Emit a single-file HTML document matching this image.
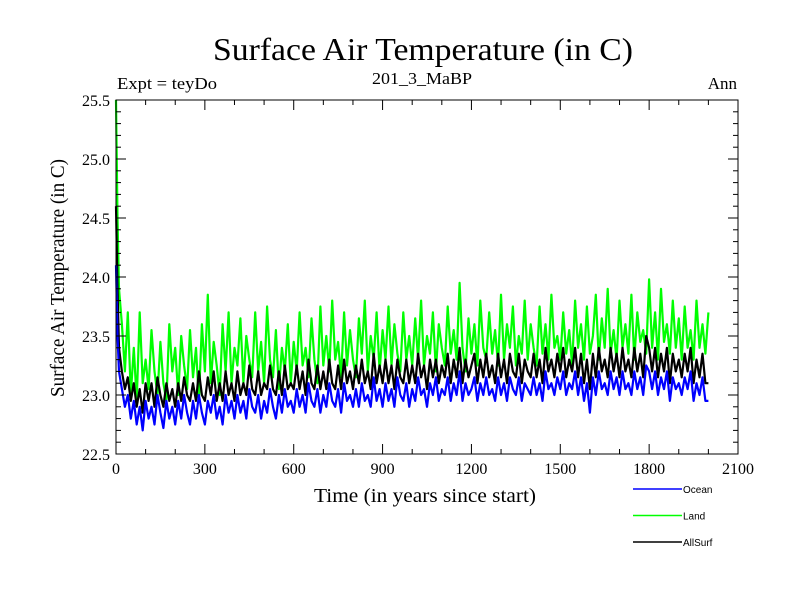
<!DOCTYPE html>
<html><head><meta charset="utf-8"><style>html,body{margin:0;padding:0;background:#fff}svg{display:block}</style></head>
<body>
<svg id="chart" width="800" height="600" xmlns="http://www.w3.org/2000/svg" font-family="'Liberation Serif', serif">
<rect width="800" height="600" fill="#fff"/>
<text x="423" y="60" font-size="32" text-anchor="middle" textLength="420" lengthAdjust="spacingAndGlyphs">Surface Air Temperature (in C)</text>
<text x="117" y="89" font-size="17" textLength="100" lengthAdjust="spacingAndGlyphs">Expt = teyDo</text>
<text x="422" y="84" font-size="17" text-anchor="middle" textLength="100" lengthAdjust="spacingAndGlyphs">201_3_MaBP</text>
<text x="737" y="89" font-size="17" text-anchor="end">Ann</text>
<text x="425" y="502" font-size="20" text-anchor="middle" textLength="222" lengthAdjust="spacingAndGlyphs">Time (in years since start)</text>
<text transform="translate(64,278) rotate(-90)" font-size="20" text-anchor="middle" textLength="238" lengthAdjust="spacingAndGlyphs">Surface Air Temperature (in C)</text>
<g id="series"></g>
<g id="axes"></g>
<g id="legend"></g>
</svg>
<script>
const years=[0,5,10,20,30,40,50,60,70,80,90,100,110,120,130,140,150,160,170,180,190,200,210,220,230,240,250,260,270,280,290,300,310,320,330,340,350,360,370,380,390,400,410,420,430,440,450,460,470,480,490,500,510,520,530,540,550,560,570,580,590,600,610,620,630,640,650,660,670,680,690,700,710,720,730,740,750,760,770,780,790,800,810,820,830,840,850,860,870,880,890,900,910,920,930,940,950,960,970,980,990,1000,1010,1020,1030,1040,1050,1060,1070,1080,1090,1100,1110,1120,1130,1140,1150,1160,1170,1180,1190,1200,1210,1220,1230,1240,1250,1260,1270,1280,1290,1300,1310,1320,1330,1340,1350,1360,1370,1380,1390,1400,1410,1420,1430,1440,1450,1460,1470,1480,1490,1500,1510,1520,1530,1540,1550,1560,1570,1580,1590,1600,1610,1620,1630,1640,1650,1660,1670,1680,1690,1700,1710,1720,1730,1740,1750,1760,1770,1780,1790,1800,1810,1820,1830,1840,1850,1860,1870,1880,1890,1900,1910,1920,1930,1940,1950,1960,1970,1980,1990,2000];
const land=[25.5,24.5,
23.9,23.6,23.2,23.7,23.0,23.4,22.95,23.7,23.1,23.3,
23.05,23.55,23.2,23.0,23.45,23.1,22.95,23.6,23.2,23.4,
23.0,23.5,23.25,23.05,23.55,23.15,23.4,22.95,23.6,23.2,
23.85,23.1,23.45,23.25,23.0,23.6,23.2,23.7,23.1,23.4,
23.25,23.65,23.1,23.5,23.3,23.15,23.7,23.2,23.45,23.1,
23.75,23.3,23.15,23.55,23.05,23.4,23.2,23.6,23.1,23.45,
23.2,23.7,23.25,23.4,23.15,23.65,23.3,23.1,23.75,23.25,
23.5,23.2,23.8,23.3,23.45,23.15,23.7,23.25,23.55,23.3,
23.15,23.65,23.35,23.8,23.2,23.5,23.3,23.7,23.2,23.55,
23.3,23.75,23.25,23.6,23.35,23.2,23.7,23.3,23.5,23.25,
23.65,23.3,23.8,23.25,23.5,23.35,23.7,23.2,23.6,23.4,
23.25,23.75,23.35,23.55,23.3,23.95,23.4,23.2,23.65,23.35,
23.6,23.25,23.8,23.4,23.3,23.7,23.35,23.55,23.25,23.85,
23.3,23.6,23.4,23.75,23.25,23.5,23.35,23.8,23.3,23.6,
23.4,23.25,23.75,23.35,23.6,23.3,23.85,23.4,23.5,23.3,
23.7,23.35,23.55,23.25,23.8,23.4,23.6,23.3,23.75,23.35,
23.5,23.85,23.3,23.65,23.4,23.9,23.35,23.55,23.3,23.8,
23.4,23.6,23.35,23.85,23.3,23.7,23.45,23.55,23.35,23.98,
23.4,23.7,23.3,23.9,23.45,23.6,23.35,23.8,23.4,23.65,
23.3,23.75,23.4,23.55,23.3,23.8,23.4,23.6,23.35,23.7];
const ocean=[24.1,23.5,
23.2,23.05,22.9,23.0,22.8,22.95,22.75,22.9,22.7,22.95,
22.8,22.9,22.75,23.0,22.85,22.72,22.95,22.8,22.9,22.75,
22.95,22.8,23.0,22.85,22.75,22.95,22.8,23.0,22.85,22.75,
22.95,22.85,23.0,22.8,22.9,22.75,23.0,22.85,22.95,22.8,
23.0,22.85,22.95,22.8,23.05,22.9,22.85,23.0,22.8,22.95,
22.85,23.05,22.9,22.8,23.0,22.85,23.05,22.9,22.95,22.85,
23.05,22.9,23.0,22.85,23.1,22.95,22.9,23.05,22.85,23.0,
22.9,23.1,22.95,22.9,23.05,22.85,23.1,22.95,23.0,22.9,
23.05,22.9,23.1,22.95,23.0,22.9,23.15,22.95,23.05,22.9,
23.1,22.95,23.05,22.9,23.15,23.0,22.95,23.1,22.9,23.05,
22.95,23.15,23.0,23.05,22.9,23.1,23.0,23.15,22.95,23.05,
23.0,23.15,22.95,23.1,23.0,23.2,22.95,23.1,23.0,23.05,
23.15,22.95,23.1,23.0,23.15,23.0,23.05,22.95,23.15,23.0,
23.1,22.95,23.15,23.05,23.0,23.15,22.95,23.1,23.05,23.0,
23.15,23.0,23.1,22.95,23.2,23.05,23.1,23.0,23.15,23.05,
23.2,23.0,23.1,23.05,23.2,23.0,23.15,22.95,23.1,22.85,
23.15,23.0,23.2,23.05,23.1,23.0,23.2,23.05,23.15,23.0,
23.2,23.05,23.1,23.0,23.2,23.05,23.15,23.0,23.25,23.2,
23.05,23.2,23.0,23.15,23.05,23.2,22.95,23.15,23.05,23.1,
23.0,23.15,23.05,23.2,22.95,23.1,23.0,23.15,22.95,22.95];
const allsurf=[24.6,23.9,
23.4,23.2,23.05,23.15,22.95,23.1,22.9,23.05,22.85,23.1,
22.95,23.1,22.9,23.15,23.0,22.9,23.1,22.95,23.05,22.9,
23.1,22.95,23.15,23.0,22.95,23.1,22.95,23.2,23.0,22.95,
23.15,23.0,23.2,22.95,23.1,22.95,23.2,23.0,23.1,22.95,
23.2,23.0,23.1,23.0,23.25,23.05,23.0,23.2,23.0,23.1,
23.05,23.25,23.05,23.0,23.2,23.0,23.25,23.05,23.1,23.05,
23.25,23.05,23.2,23.0,23.3,23.1,23.05,23.25,23.05,23.2,
23.05,23.3,23.1,23.05,23.25,23.05,23.3,23.1,23.2,23.05,
23.25,23.1,23.3,23.1,23.2,23.05,23.35,23.1,23.25,23.1,
23.3,23.1,23.25,23.05,23.3,23.15,23.1,23.3,23.1,23.25,
23.1,23.35,23.15,23.25,23.05,23.3,23.15,23.3,23.1,23.25,
23.15,23.35,23.1,23.3,23.15,23.4,23.1,23.3,23.15,23.25,
23.35,23.1,23.3,23.15,23.35,23.15,23.25,23.1,23.35,23.15,
23.3,23.1,23.35,23.2,23.15,23.35,23.1,23.3,23.2,23.15,
23.35,23.15,23.3,23.1,23.4,23.2,23.3,23.15,23.35,23.2,
23.4,23.15,23.3,23.2,23.4,23.15,23.35,23.1,23.3,23.05,
23.35,23.15,23.4,23.2,23.3,23.15,23.4,23.2,23.35,23.15,
23.4,23.2,23.3,23.15,23.4,23.2,23.35,23.15,23.5,23.4,
23.2,23.4,23.15,23.35,23.2,23.4,23.1,23.35,23.2,23.3,
23.15,23.35,23.2,23.4,23.1,23.3,23.15,23.35,23.1,23.1];
const xTicks=[0,300,600,900,1200,1500,1800,2100];
const yTicks=[22.5,23.0,23.5,24.0,24.5,25.0,25.5];
const yLabels=["22.5","23.0","23.5","24.0","24.5","25.0","25.5"];
const seriesNames=["Ocean","Land","AllSurf"];
const seriesColors=["#0000ff","#00ff00","#000000"];

const NS="http://www.w3.org/2000/svg";
const L=116,R=738,T=100,B=454;
const xs=v=>L+(v-0)/(2100-0)*(R-L);
const ys=v=>B-(v-22.5)/(25.5-22.5)*(B-T);
function mk(tag,attrs,parent){const e=document.createElementNS(NS,tag);for(const k in attrs)e.setAttribute(k,attrs[k]);parent.appendChild(e);return e;}
const axes=document.getElementById('axes');
const frame=mk('rect',{x:L,y:T,width:R-L,height:B-T,fill:'none',stroke:'#000','stroke-width':1},axes);


for(let v=0;v<=2100;v+=100){const x=xs(v);const len=(v%300===0)?10:5;
 const t1=mk('line',{x1:x,y1:B,x2:x,y2:B-len,stroke:'#000'},axes);
 
 
 const t2=mk('line',{x1:x,y1:T,x2:x,y2:T+len,stroke:'#000'},axes);
 
 }
for(let i=0;i<=30;i++){const v=22.5+i*0.1;const y=ys(v);const len=(i%5===0)?10:5;
 const t1=mk('line',{x1:L,y1:y,x2:L+len,y2:y,stroke:'#000'},axes);
 
 
 const t2=mk('line',{x1:R,y1:y,x2:R-len,y2:y,stroke:'#000'},axes);
 
 }
xTicks.forEach(v=>{const t=mk('text',{x:xs(v),y:B+20,'font-size':16,'text-anchor':'middle'},axes);t.textContent=String(v);
 
 });
yTicks.forEach((v,i)=>{const t=mk('text',{x:L-6,y:ys(v)+6,'font-size':16,'text-anchor':'end'},axes);t.textContent=yLabels[i];
 
 });
const sg=document.getElementById('series');
const order=[1,2,0];
const all=[ocean,land,allsurf];
order.forEach(si=>{const arr=all[si];
 const d=arr.map((v,i)=>(i?'L':'M')+xs(years[i]).toFixed(1)+','+ys(v).toFixed(1)).join(' ');
 const p=mk('path',{d:d,fill:'none',stroke:seriesColors[si],'stroke-width':2.2,'stroke-linejoin':'round'},sg);
 
 
});
const lg=document.getElementById('legend');
seriesNames.forEach((n,i)=>{const y=489+i*26.5;
 const ln=mk('line',{x1:633,y1:y,x2:682,y2:y,stroke:seriesColors[i],'stroke-width':1.5},lg);
 
 
 const t=mk('text',{x:683,y:y+4,'font-size':10,'font-family':"'Liberation Sans', sans-serif"},lg);t.textContent=n;
 
 });
</script>
</body></html>
